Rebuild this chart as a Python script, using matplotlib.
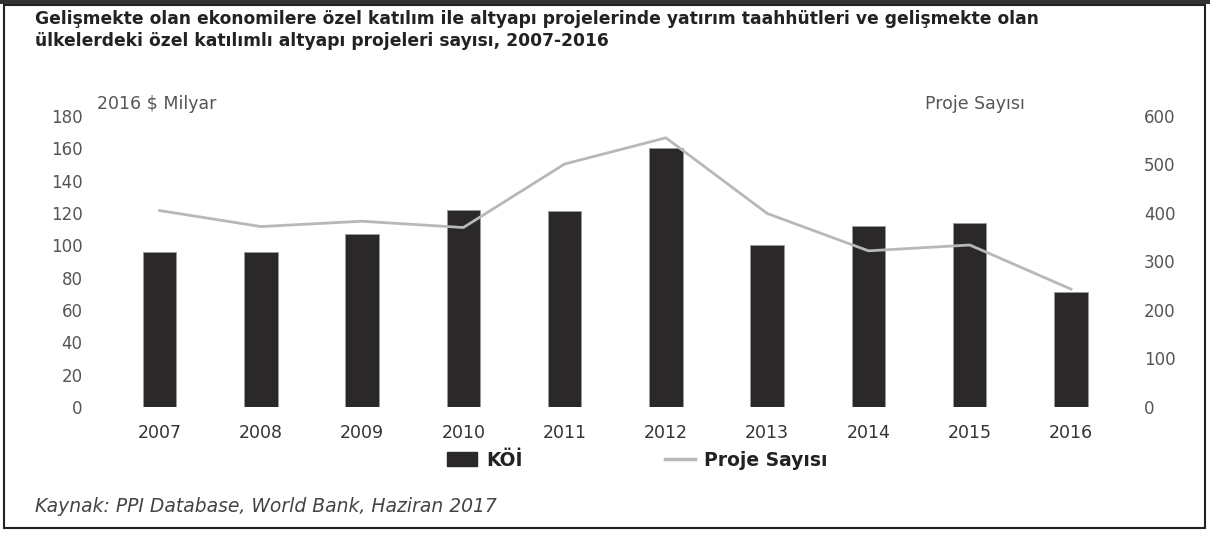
import numpy as np
import matplotlib
matplotlib.use("Agg")
import matplotlib.pyplot as plt
from matplotlib.patches import Rectangle, Patch
from matplotlib.lines import Line2D

# ------------------------------------------------------------
# Data
# ------------------------------------------------------------
years = ["2007", "2008", "2009", "2010", "2011", "2012", "2013", "2014", "2015", "2016"]
koi_billion = [96, 96, 107, 122, 121, 160, 100, 112, 114, 71]        # 2016 $ Milyar
project_count = [405, 372, 383, 370, 501, 555, 399, 322, 334, 243]  # Proje Sayısı

left_ticks = list(range(0, 181, 20))
right_ticks = list(range(0, 601, 100))

TITLE = ("Gelişmekte olan ekonomilere özel katılım ile altyapı projelerinde yatırım taahhütleri ve gelişmekte olan\n"
         "ülkelerdeki özel katılımlı altyapı projeleri sayısı, 2007-2016")
SOURCE = "Kaynak: PPI Database, World Bank, Haziran 2017"

BAR_COLOR = "#2b2829"
LINE_COLOR = "#b8b8b8"
TICK_COLOR = "#555555"

W, H = 1210, 533

# ------------------------------------------------------------
# Figure
# ------------------------------------------------------------
fig = plt.figure(figsize=(W / 100, H / 100), dpi=100, facecolor="white")
ax = fig.add_axes([0.090, 0.2364, 0.837, 0.546])
ax2 = ax.twinx()

x = np.arange(len(years))
ax.bar(x, koi_billion, width=0.33, color=BAR_COLOR, edgecolor="#9a9a9a", linewidth=0.6, zorder=2)
ax2.plot(x, project_count, color=LINE_COLOR, linewidth=2.0, zorder=3)

ax.set_xlim(-0.5, len(years) - 0.5)
ax.set_ylim(0, 180)
ax2.set_ylim(0, 600)
ax.set_yticks(left_ticks)
ax2.set_yticks(right_ticks)
ax.set_xticks(x)
ax.set_xticklabels(years)

for a in (ax, ax2):
    for s in a.spines.values():
        s.set_visible(False)
    a.tick_params(length=0, labelsize=12, labelcolor=TICK_COLOR)
ax.tick_params(axis="y", pad=19)
ax2.tick_params(axis="y", pad=16)
ax.tick_params(axis="x", pad=12, labelsize=12.5, labelcolor="#333333")

# axis captions
fig.text(97 / W, 1 - 104 / H, "2016 $ Milyar", fontsize=12.5, color=TICK_COLOR, va="center")
fig.text(925 / W, 1 - 104 / H, "Proje Sayısı", fontsize=12.5, color=TICK_COLOR, va="center")

# title and source
fig.text(35 / W, 1 - 10 / H, TITLE, fontsize=12.3, fontweight="bold", color="#222222",
         va="top", ha="left", linespacing=1.3, family="DejaVu Sans")
fig.text(35 / W, 1 - 507 / H, SOURCE, fontsize=13.5, style="italic", color="#444444", va="center")

# legend, one entry per box so each sits where it should
legend_items = [
    (Patch(facecolor=BAR_COLOR, edgecolor=BAR_COLOR), "KÖİ", 447),
    (Line2D([0], [0], color=LINE_COLOR, linewidth=2.5), "Proje Sayısı", 665),
]
for handle, label, xpos in legend_items:
    leg = fig.legend([handle], [label], loc="center left", bbox_to_anchor=(xpos / W, 1 - 460 / H),
                     frameon=False, borderpad=0, borderaxespad=0, handlelength=1.6,
                     handletextpad=0.5, prop={"weight": "bold", "size": 13.5})
    for t in leg.get_texts():
        t.set_color("#222222")

# outer frame
fig.patches.append(Rectangle((4 / W, 5 / H), 1201 / W, 523 / H, transform=fig.transFigure,
                             fill=False, edgecolor="#222222", linewidth=1.5))
fig.patches.append(Rectangle((0, 1 - 4 / H), 1, 4 / H, transform=fig.transFigure,
                             facecolor="#333333", edgecolor="none"))

fig.savefig("out.png", dpi=100, facecolor="white")
